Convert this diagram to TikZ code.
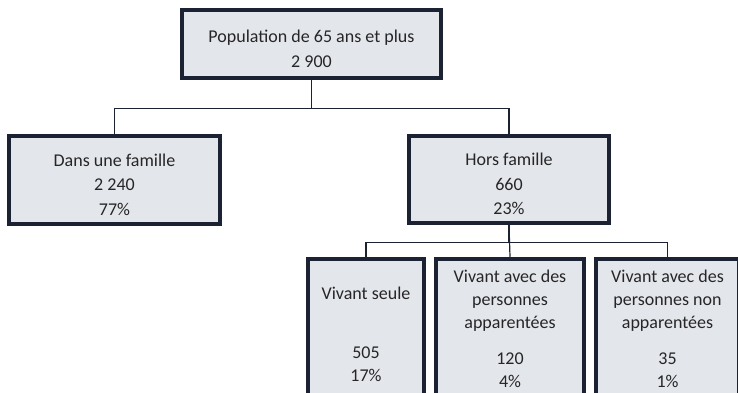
\documentclass[tikz,border=0pt]{standalone}
\usepackage{fontspec}
\setmainfont{Carlito}
\definecolor{boxfill}{HTML}{E3E6EB}
\definecolor{boxline}{HTML}{1B2233}
\definecolor{txt}{HTML}{262626}
\newcommand{\toppad}[1]{\rule{0pt}{#1}}
\begin{document}
\begin{tikzpicture}[x=1pt,y=-1pt,
 box/.style={draw=boxline, line width=4.5pt, fill=boxfill, align=center, text=txt, inner sep=0pt, font=\fontsize{18}{24.5}\selectfont},
 lowbox/.style={box, font=\fontsize{18}{22.7}\selectfont, minimum height=140pt},
 conn/.style={draw=boxline, line width=1.2pt}]
\clip (0,0) rectangle (738,392);
\node[box, minimum width=259pt, minimum height=68pt] (pop) at (311.5,44) {\toppad{22pt}Population de 65 ans et plus\\2 900};
\node[box, minimum width=211pt, minimum height=88pt] (dans) at (114.5,180) {\toppad{22pt}Dans une famille\\2 240\\77\%};
\node[box, minimum width=200pt, minimum height=87pt] (hors) at (509,179.5) {\toppad{22pt}Hors famille\\660\\23\%};
\node[lowbox, minimum width=116pt] (seule) at (366,329) {\mbox{}\\Vivant seule\\\mbox{}\\[14pt]505\\17\%};
\node[lowbox, minimum width=148pt] (app) at (510,329) {Vivant avec des\\personnes\\apparentées\\[14pt]120\\4\%};
\node[lowbox, minimum width=143pt] (nonapp) at (667.5,329) {Vivant avec des\\personnes non\\apparentées\\[14pt]35\\1\%};
\draw[conn] (pop.south) -- ++(0,28) -| (dans.north);
\draw[conn] (pop.south) -- ++(0,28) -| (hors.north);
\draw[conn] (hors.south) -- ++(0,17) -| (seule.north);
\draw[conn] (hors.south) -- (app.north);
\draw[conn] (hors.south) -- ++(0,17) -| (nonapp.north);
\end{tikzpicture}
\end{document}
